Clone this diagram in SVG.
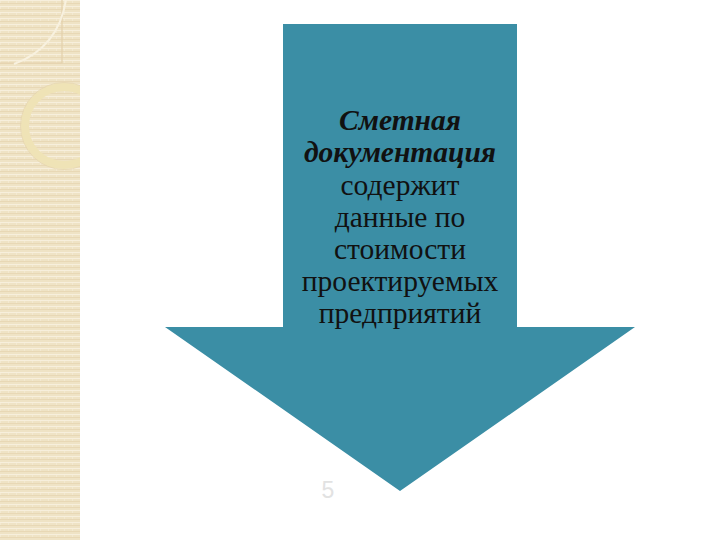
<svg xmlns="http://www.w3.org/2000/svg" width="720" height="540" viewBox="0 0 720 540">
<defs>
<pattern id="weave" x="0" y="0" width="8" height="6" patternUnits="userSpaceOnUse">
<rect width="8" height="6" fill="#efe3c5"/>
<rect y="0" width="8" height="1" fill="#f7efdc"/>
<rect y="3" width="8" height="1" fill="#e8d8b5"/>
<rect x="0" y="1" width="1" height="2" fill="#f3e9d1"/>
</pattern>
<clipPath id="strip"><rect width="80" height="540"/></clipPath>
<style>
.t{font-family:"Liberation Serif","Times New Roman",serif;font-size:29.5px;fill:#111;text-anchor:middle}
.b{font-weight:bold;font-style:italic}
</style>
</defs>
<g id="background">
<rect width="720" height="540" fill="#ffffff"/>
<rect width="80" height="540" fill="url(#weave)"/>
<g clip-path="url(#strip)" fill="none">
<path d="M0 63 H62 V0" stroke="#e3d0ab" stroke-width="1.2"/>
<path d="M66 0 Q58 48 14 64" stroke="#f8f1df" stroke-width="2"/>
<circle cx="64" cy="126" r="39" stroke="#efe3b6" stroke-width="8"/>
<circle cx="64" cy="126" r="43.5" stroke="#e6d6ad" stroke-width="0.8"/>
</g>
</g>
<g id="arrow">
<polygon points="283,24 517,24 517,327 635,327 400,491 165,327 283,327" fill="#3b8ea5"/>
</g>
<g id="label">
<text class="t b" x="400" y="130">Сметная</text>
<text class="t b" x="400" y="162">документация</text>
<text class="t" x="400" y="195">содержит</text>
<text class="t" x="400" y="227">данные по</text>
<text class="t" x="400" y="259">стоимости</text>
<text class="t" x="400" y="291">проектируемых</text>
<text class="t" x="400" y="323">предприятий</text>
</g>
<g id="page-number">
<text x="328" y="498" font-family="Liberation Sans, Arial, sans-serif" font-size="23" fill="#e2e2e2" text-anchor="middle">5</text>
</g>
</svg>
